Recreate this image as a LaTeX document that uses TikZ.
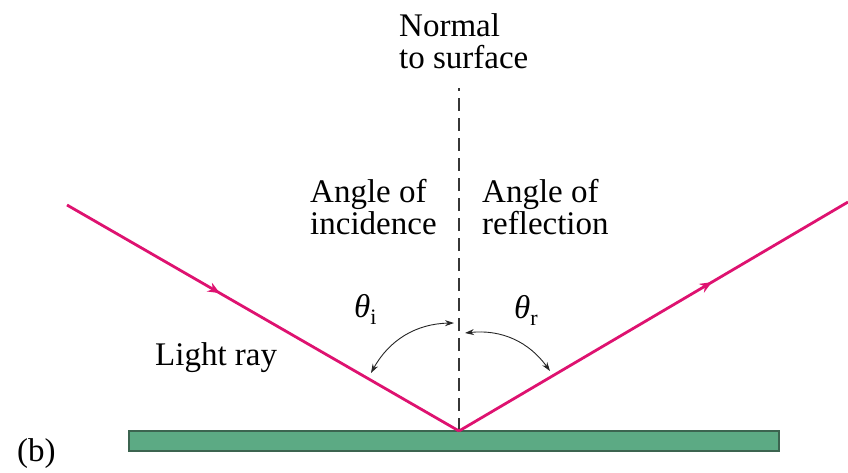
\documentclass[tikz,border=0pt]{standalone}
\usepackage{fontspec}
\setmainfont{Liberation Serif}
\usetikzlibrary{arrows.meta,decorations.markings}
\definecolor{raycol}{RGB}{222,18,112}
\definecolor{barfill}{RGB}{92,170,132}
\definecolor{barline}{RGB}{60,100,80}
\definecolor{normcol}{RGB}{55,55,55}
\tikzset{
  lbl/.style={inner sep=0pt, font=\fontsize{33}{32}\selectfont, align=left},
  ray/.style={draw=raycol, line width=2.8pt, postaction={decorate}},
  normline/.style={draw=normcol, line width=2.6pt, dash pattern=on 13pt off 7pt},
  anglearc/.style={draw=black!85, line width=0.9pt, {Stealth[length=9pt,width=6pt]}-{Stealth[length=9pt,width=6pt]}},
  surface/.style={draw=barline, fill=barfill, line width=1.5pt}
}
\begin{document}
\begin{tikzpicture}[x=1pt,y=1pt]
\useasboundingbox (0,0) rectangle (848,472);
% surface
\node[surface, minimum width=650pt, minimum height=20pt, inner sep=0pt] (bar) at (454,31) {};
\coordinate (R) at (459,41);
\coordinate (A) at (67,267);
\coordinate (B) at (848,270);
\coordinate (N) at (459,384);
% normal
\draw[normline] (R) -- (N);
% rays
\path[ray, decoration={markings, mark=at position 0.39 with {\arrow{Stealth[length=12pt,width=10pt]}}}] (A) -- (R);
\path[ray, decoration={markings, mark=at position 0.65 with {\arrow{Stealth[length=12pt,width=10pt]}}}] (R) -- (B);
% angle arcs
\coordinate (a1) at (454,149);
\coordinate (a2) at (371,99);
\coordinate (b1) at (465,139);
\coordinate (b2) at (550,101);
\draw[anglearc] (a1) to[bend right=30] (a2);
\draw[anglearc] (b1) to[bend left=30] (b2);
% labels
\node[lbl, anchor=north west] (normal) at (399,459) {Normal\\to surface};
\node[lbl, anchor=north west] (inc) at (310,292.5) {Angle of\\incidence};
\node[lbl, anchor=north west] (refl) at (482,292.5) {Angle of\\reflection};
\node[lbl, anchor=base west] (thi) at (354,155) {\itshape θ\upshape\raisebox{-0.22em}{\fontsize{22}{22}\selectfont i}};
\node[lbl, anchor=base west] (thr) at (514,154) {\itshape θ\upshape\raisebox{-0.22em}{\fontsize{22}{22}\selectfont r}};
\node[lbl, anchor=base west] (light) at (155,107) {Light ray};
\node[lbl, anchor=base west] (b) at (17,11) {(b)};
\end{tikzpicture}
\end{document}
